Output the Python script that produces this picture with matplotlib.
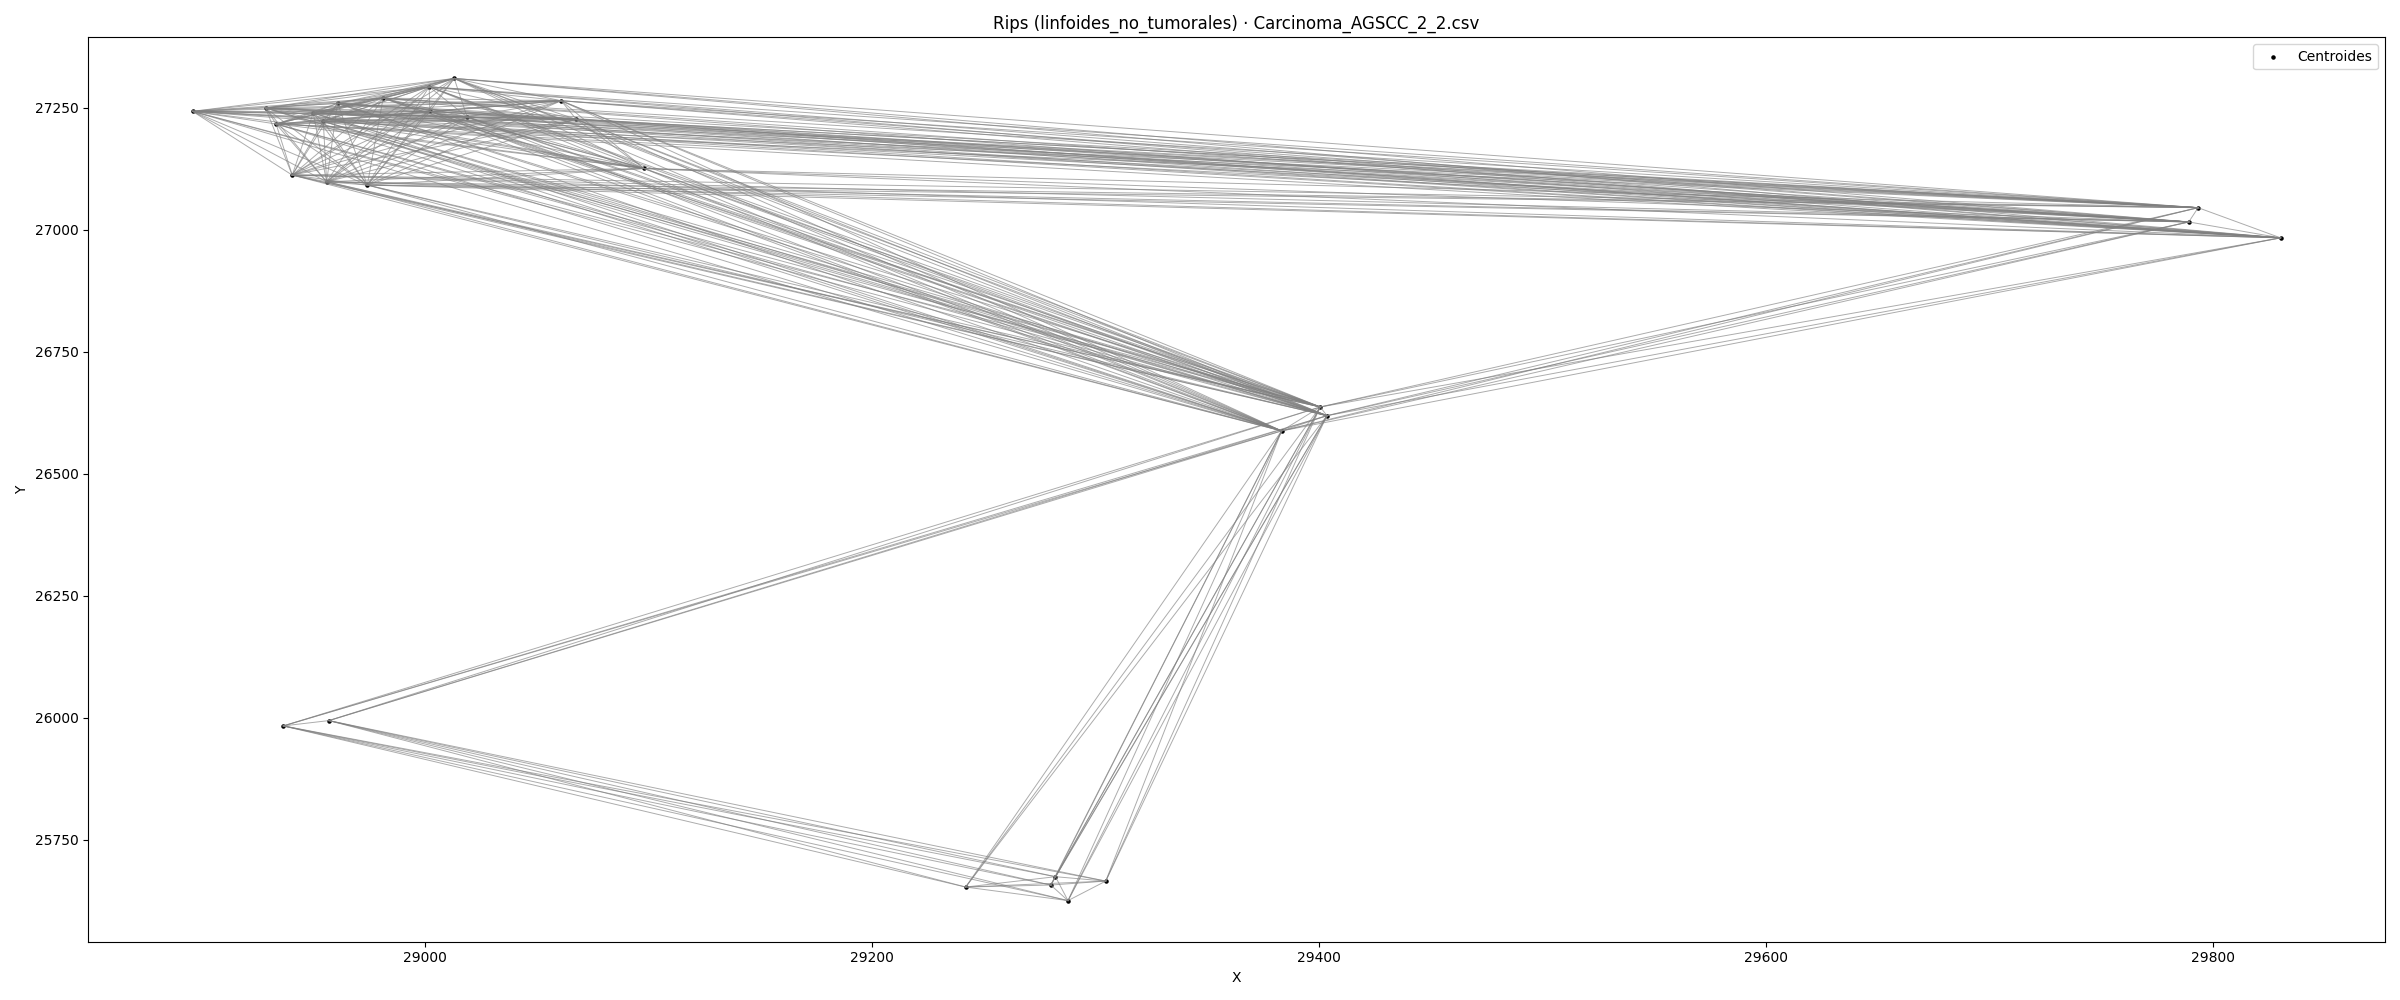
import numpy as np
import matplotlib
matplotlib.use("Agg")
import matplotlib.pyplot as plt

# centroides (x, y)
xs = [28895.8, 28928.5, 28933.2, 28940.4, 28949.8, 28954.3, 28955.8, 28960.7,
      28974.0, 28981.1, 29001.7, 29012.9, 29002.0, 29018.7, 29060.8, 29067.5,
      29097.9,
      29793.4, 29789.2, 29830.3,
      29400.5, 29403.5, 29383.2,
      29241.8, 29282.0, 29279.9, 29304.5, 29287.6,
      28936.4, 28956.8]
ys = [27242.4, 27249.2, 27216.5, 27111.8, 27239.0, 27222.0, 27098.1, 27258.8,
      27091.4, 27269.6, 27292.7, 27309.8, 27242.4, 27230.8, 27264.1, 27226.1,
      27125.3,
      27045.0, 27015.8, 26983.2,
      26636.7, 26618.9, 26587.7,
      25653.2, 25674.4, 25657.3, 25665.4, 25625.4,
      25983.3, 25994.2]

radio = 1050  # distancia maxima de arista en el complejo de Rips

pts = np.column_stack([xs, ys])

fig, ax = plt.subplots(figsize=(24, 10), dpi=100)

ax.scatter(xs, ys, s=5, color="black", zorder=1, label="Centroides")

# aristas: todos los pares a menos de radio (encima de los puntos)
n = len(pts)
for i in range(n):
    for j in range(i + 1, n):
        d = np.hypot(*(pts[i] - pts[j]))
        if d <= radio:
            ax.plot([pts[i, 0], pts[j, 0]], [pts[i, 1], pts[j, 1]],
                    color="gray", lw=0.7, alpha=0.65, zorder=2)

ax.set_title("Rips (linfoides_no_tumorales) · Carcinoma_AGSCC_2_2.csv")
ax.set_xlabel("X")
ax.set_ylabel("Y")
ax.legend(loc="upper right")
plt.tight_layout()
plt.savefig("out.png")
